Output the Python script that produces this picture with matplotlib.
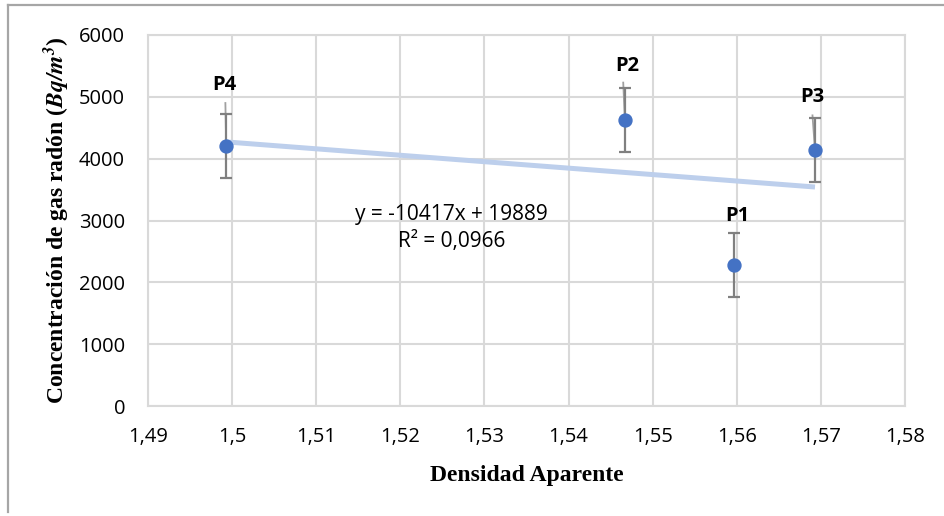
import matplotlib
matplotlib.use("Agg")
import matplotlib.pyplot as plt
from matplotlib.lines import Line2D

# ---- data ----
labels = ["P1", "P2", "P3", "P4"]
densidad = [1.5597, 1.5467, 1.5693, 1.4993]
radon = [2280, 4625, 4145, 4200]
err = [515, 515, 515, 515]
# secondary (overlapping) error segment top values and their x ends
extra_top = [None, 5230, 4700, 4900]
extra_top_x = [None, 1.5465, 1.5690, 1.4992]
slope, intercept, r2 = -10417, 19889, "0,0966"
xticks = [1.49, 1.50, 1.51, 1.52, 1.53, 1.54, 1.55, 1.56, 1.57, 1.58]
xtick_labels = ["1,49", "1,5", "1,51", "1,52", "1,53", "1,54", "1,55", "1,56", "1,57", "1,58"]
yticks = [0, 1000, 2000, 3000, 4000, 5000, 6000]

# label offsets (points from the data point), style only
label_offsets = [(2, 35), (2, 39), (-2, 38), (-1, 44)]

plt.rcParams["mathtext.fontset"] = "stix"

W, H = 944, 516
fig = plt.figure(figsize=(W / 100, H / 100), dpi=100)
ax = fig.add_axes([148 / W, 1 - 406 / H, (905 - 148) / W, (406 - 35) / H])

ax.set_xlim(1.49, 1.58)
ax.set_ylim(0, 6000)
ax.set_xticks(xticks)
ax.set_xticklabels(xtick_labels)
ax.set_yticks(yticks)
ax.grid(True, color="#D9D9D9", linewidth=1.5)
ax.set_axisbelow(True)
for s in ax.spines.values():
    s.set_color("#D9D9D9")
    s.set_linewidth(1.5)
ax.tick_params(length=0, labelsize=14.5, colors="black")
ax.tick_params(axis="y", pad=16.5)
ax.tick_params(axis="x", pad=15)
for t in ax.get_xticklabels() + ax.get_yticklabels():
    t.set_fontfamily("Open Sans")

# trendline
xmin, xmax = min(densidad), max(densidad)
ax.plot([xmin, xmax], [slope * xmin + intercept, slope * xmax + intercept],
        color="#BDCFEC", linewidth=3.6, solid_capstyle="butt", zorder=2)

# secondary error segments
for x, y, xt, yt in zip(densidad, radon, extra_top_x, extra_top):
    if yt is not None:
        ax.plot([x, xt], [y, yt], color="#A0A0A0", linewidth=1.3, zorder=3)

ax.errorbar(densidad, radon, yerr=err, fmt="o", color="#4472C4", markersize=9.3,
            ecolor="#808080", elinewidth=1.6, capsize=4.4, capthick=1.6, zorder=4)

# point labels
for x, y, lab, (dx, dy) in zip(densidad, radon, labels, label_offsets):
    ax.annotate(lab, (x, y), xytext=(dx, dy), textcoords="offset points",
                ha="center", va="center", fontsize=14.5, fontweight="bold",
                fontfamily="Open Sans")

# equation
ax.text(1.5261, 2880, "y = -10417x + 19889\nR² = " + r2, ha="center", va="center",
        fontsize=15, fontfamily="Open Sans", linespacing=1.35)

ax.set_xlabel("Densidad Aparente", fontsize=17, fontweight="bold",
              fontfamily="Liberation Serif", va="center")
ax.xaxis.set_label_coords(0.5, (406 - 475) / 371)
ax.set_ylabel("Concentración de gas radón ($\\mathbfit{Bq/m^3}$)", fontsize=17,
              fontweight="bold", fontfamily="Liberation Serif", va="center")
ax.yaxis.set_label_coords((57 - 148) / 757, 0.5)

# outer frame lines (top and left)
fig.add_artist(Line2D([8 / W, 1], [1 - 5 / H, 1 - 5 / H], color="#A6A6A6", linewidth=1.6,
                      transform=fig.transFigure))
fig.add_artist(Line2D([8 / W, 8 / W], [1 - 5 / H, 1 - 512 / H], color="#A6A6A6", linewidth=1.6,
                      transform=fig.transFigure))

fig.savefig("out.png", dpi=100, facecolor="white")
